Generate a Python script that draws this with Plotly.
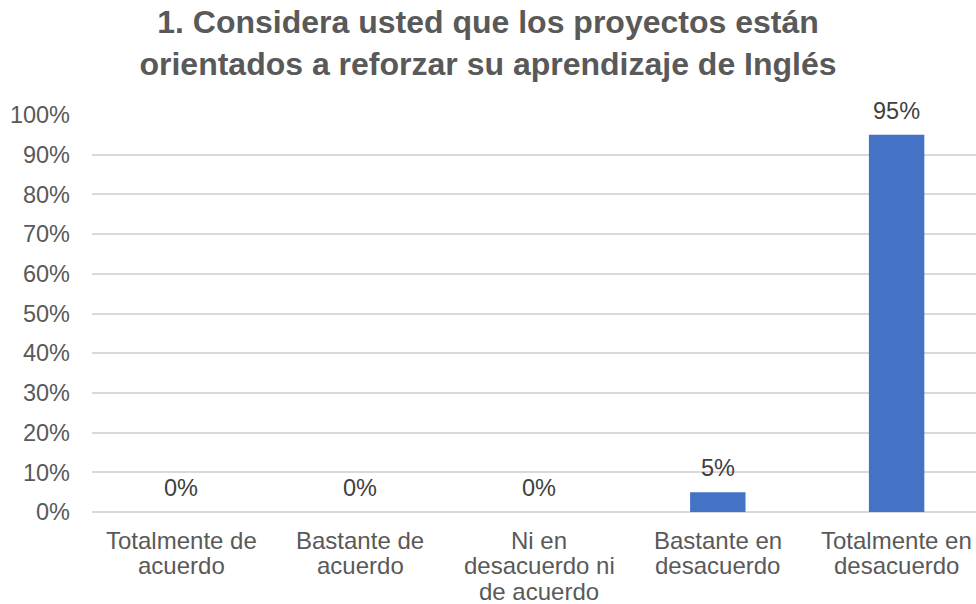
import plotly.graph_objects as go

categories = ["Totalmente de<br>acuerdo", "Bastante de<br>acuerdo", "Ni en<br>desacuerdo ni<br>de acuerdo",
              "Bastante en<br>desacuerdo", "Totalmente en<br>desacuerdo"]
values = [0, 0, 0, 5, 95]
value_labels = ["0%", "0%", "0%", "5%", "95%"]
title_text = "1. Considera usted que los proyectos están<br>orientados a reforzar su aprendizaje de Inglés"

FONT = "Liberation Sans, Arial"
xs = list(range(len(categories)))

fig = go.Figure(go.Bar(
    x=xs, y=values,
    marker=dict(color="#4472C4", line=dict(width=0)),
    width=0.31,
    hoverinfo="skip",
))

annotations = []
# data labels
for x, v, lab in zip(xs, values, value_labels):
    annotations.append(dict(x=x, y=v, xref="x", yref="y", text=lab, showarrow=False,
                            yanchor="middle", yshift=24,
                            font=dict(family=FONT, size=23.5, color="#404040")))
# category labels, one line at a time (to match the tighter line spacing)
for x, cat in zip(xs, categories):
    for k, line in enumerate(cat.split("<br>")):
        annotations.append(dict(x=x, y=0, xref="x", yref="y", text=line, showarrow=False,
                                yanchor="middle", yshift=-(28 + 25.5 * k),
                                font=dict(family=FONT, size=24, color="#595959")))

fig.update_layout(
    width=976, height=604,
    margin=dict(l=92, r=0, t=115, b=92, autoexpand=False),
    paper_bgcolor="white", plot_bgcolor="white",
    font=dict(family=FONT, size=23.5, color="#595959"),
    title=dict(text=title_text, x=0.5, xanchor="center", y=0.945, yanchor="top",
               font=dict(family=FONT, size=32, color="#595959", weight="bold")),
    showlegend=False,
    annotations=annotations,
)
fig.update_xaxes(range=[-0.5, 4.444], tickvals=xs, showticklabels=False, automargin=False,
                 showgrid=False, zeroline=False, showline=False, ticks="")
fig.update_yaxes(range=[0, 100], dtick=10, ticksuffix="%", showgrid=True, gridcolor="#D9D9D9",
                 gridwidth=1.5, zeroline=True, zerolinecolor="#D9D9D9", zerolinewidth=1.5,
                 showline=False, ticks="", ticklabelstandoff=21, automargin=False,
                 tickfont=dict(family=FONT, size=23.5, color="#595959"))

fig.write_html("out.html", config={"displayModeBar": False},
               post_script="document.body.style.margin='0';document.body.style.overflow='hidden';")
